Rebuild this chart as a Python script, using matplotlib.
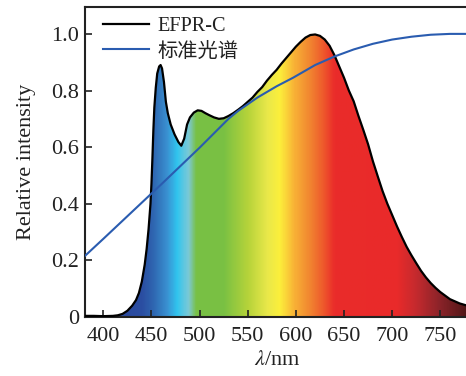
import numpy as np
import matplotlib
matplotlib.use("Agg")
import matplotlib.pyplot as plt
from matplotlib.colors import LinearSegmentedColormap
from matplotlib.patches import Polygon

plt.rcParams['font.family'] = ['Liberation Serif', 'Noto Sans CJK SC']
plt.rcParams['mathtext.fontset'] = 'stix'

# EFPR-C spectrum (wavelength nm, relative intensity)
wl_spec = [381, 390, 400, 410, 415, 420, 425, 430, 434, 437, 440, 443, 445, 447, 449,
           450, 451, 452, 453, 454.5, 456, 458, 459.5, 461, 463, 465, 467, 470, 474, 478,
           481, 484, 487, 490, 494, 498, 502, 506, 510, 515, 520, 525, 530, 535, 540,
           545, 550, 555, 560, 565, 570, 575, 580, 585, 590, 595, 600, 605, 610, 615,
           620, 625, 630, 635, 640, 645, 650, 655, 660, 665, 670, 675, 680, 685, 690,
           695, 700, 705, 710, 715, 720, 725, 730, 735, 740, 745, 750, 760, 770, 780]
val_spec = [0.004, 0.004, 0.003, 0.004, 0.006, 0.011, 0.022, 0.040, 0.060, 0.085, 0.125,
            0.185, 0.24, 0.31, 0.40, 0.47, 0.56, 0.66, 0.74, 0.81, 0.86, 0.885, 0.89,
            0.878, 0.83, 0.76, 0.72, 0.68, 0.645, 0.618, 0.605, 0.63, 0.68, 0.705, 0.722,
            0.73, 0.728, 0.72, 0.713, 0.705, 0.70, 0.702, 0.71, 0.72, 0.732, 0.745, 0.76,
            0.775, 0.795, 0.812, 0.835, 0.855, 0.873, 0.895, 0.915, 0.935, 0.955, 0.972,
            0.987, 0.996, 0.998, 0.993, 0.98, 0.958, 0.925, 0.885, 0.845, 0.80, 0.762,
            0.71, 0.661, 0.61, 0.55, 0.497, 0.445, 0.40, 0.36, 0.32, 0.283, 0.248, 0.218,
            0.19, 0.163, 0.14, 0.12, 0.103, 0.088, 0.063, 0.048, 0.038]

# Standard spectrum
wl_std = [381, 400, 420, 440, 460, 480, 500, 510, 530, 540, 560, 580, 597, 620, 640,
          660, 680, 700, 720, 740, 760, 780]
val_std = [0.216, 0.276, 0.34, 0.404, 0.468, 0.533, 0.598, 0.632, 0.70, 0.728, 0.775,
           0.815, 0.845, 0.89, 0.92, 0.945, 0.965, 0.98, 0.99, 0.997, 1.0, 1.0]

x_ticks = [400, 450, 500, 550, 600, 650, 700, 750]
y_ticks = [0, 0.2, 0.4, 0.6, 0.8, 1.0]
y_ticklabels = ['0', '0.2', '0.4', '0.6', '0.8', '1.0']
legend_labels = ['EFPR-C', '标准光谱']

XMIN, XMAX = 381, 780
fig = plt.figure(figsize=(4.66, 3.76), dpi=100)
ax = fig.add_axes([0.1824, 0.1569, 1.0069 - 0.1824, 0.8245])

# rainbow gradient by wavelength
stops = [(381, '#2a3f95'), (440, '#2b4ea2'), (452, '#2f68b2'), (466, '#3a92d2'),
         (476, '#30c5ef'), (488, '#7dc9d6'), (496, '#78c045'), (525, '#7ac143'),
         (550, '#b6d33a'), (570, '#e9e84a'), (583, '#fcef3b'), (598, '#f8b236'),
         (612, '#f28c31'), (628, '#ee5a2c'), (640, '#ea2c2a'), (705, '#e92a2a'),
         (725, '#c42a2e'), (750, '#8a2329'), (780, '#4a1515')]
cm = LinearSegmentedColormap.from_list(
    'spec', [((w - XMIN) / (XMAX - XMIN), c) for w, c in stops])
grad = np.linspace(0, 1, 800).reshape(1, -1)
im = ax.imshow(grad, cmap=cm, extent=[XMIN, XMAX, 0, 1.1], aspect='auto',
               origin='lower', zorder=1, interpolation='bilinear')
verts = list(zip(wl_spec, val_spec)) + [(wl_spec[-1], 0), (wl_spec[0], 0)]
poly = Polygon(verts, closed=True, facecolor='none', edgecolor='none',
               transform=ax.transData)
ax.add_patch(poly)
im.set_clip_path(poly)

ax.plot(wl_spec, val_spec, color='black', lw=1.6, zorder=3, label=legend_labels[0])
ax.plot(wl_std, val_std, color='#2a5cb0', lw=1.5, zorder=4, label=legend_labels[1])

ax.set_xlim(XMIN, XMAX)
ax.set_ylim(0, 1.095)
ax.set_xticks(x_ticks)
ax.set_yticks(y_ticks)
ax.set_yticklabels(y_ticklabels)
ax.tick_params(direction='in', length=5, width=1.2, labelsize=16,
               colors='#222222')
ax.tick_params(axis='x', pad=7)
ax.tick_params(axis='y', pad=4)
for s in ['left', 'bottom', 'top']:
    ax.spines[s].set_linewidth(1.5)
    ax.spines[s].set_color('#222222')
ax.spines['right'].set_visible(False)

ax.set_ylabel('Relative intensity', fontsize=16, color='#222222', labelpad=11)
ax.set_xlabel(r'$\lambda$/nm', fontsize=16, color='#222222', labelpad=4)

leg = ax.legend(loc='upper left', frameon=False, fontsize=14.6, handlelength=2.3,
                borderaxespad=0.0, handletextpad=0.4, labelspacing=0.32,
                bbox_to_anchor=(0.025, 0.995))
for t in leg.get_texts():
    t.set_color('#222222')

fig.savefig('out.png', dpi=100)
